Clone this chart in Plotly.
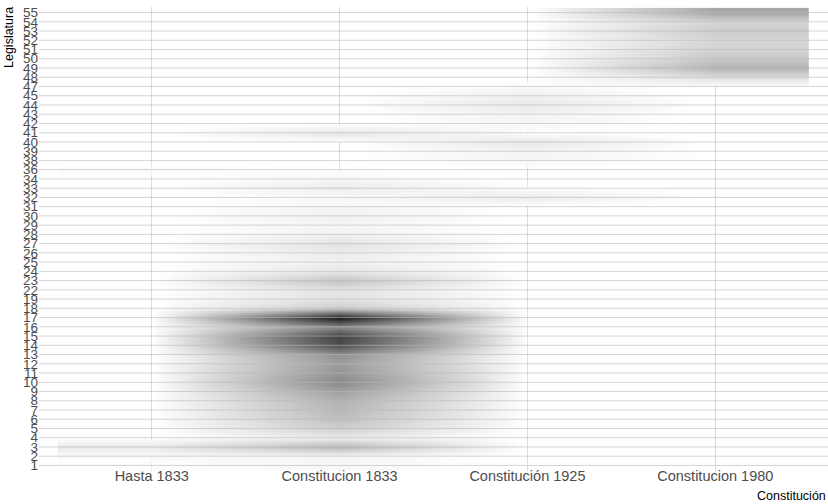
import plotly.graph_objects as go

# Columns of the heat map
constituciones = ["Hasta 1833", "Constitucion 1833", "Constitución 1925", "Constitucion 1980"]

# Rows of the heat map (legislaturas present in the data)
legislaturas = [1, 2, 3, 4, 5, 6, 7, 8, 9, 10, 11, 12, 13, 14, 15, 16, 17, 18, 19,
                22, 23, 24, 25, 26, 27, 28, 29, 30, 31, 32, 33, 34,
                36, 38, 39, 40, 41, 42, 43, 44, 45, 47,
                48, 49, 50, 51, 52, 53, 54, 55]

# Intensity per legislatura for each constitution (same order as legislaturas)
hasta_1833 = [1, 2, 9, 0, 0, 0, 0, 0, 0, 0, 0, 0, 0, 0, 0, 0, 0, 0, 0,
              0, 0, 0, 0, 0, 0, 0, 0, 0, 0, 0, 0, 0,
              2, 0, 0, 0, 0, 0, 0, 0, 0, 0,
              0, 0, 0, 0, 0, 0, 0, 0]

constitucion_1833 = [3, 4, 30, 8, 20, 27, 30, 33, 40, 50, 45, 42, 46,
                     76, 80, 50, 97, 22, 12,
                     12, 25, 10, 6, 8, 12, 5, 4, 6, 4, 2, 8, 3,
                     1, 0, 0, 0, 10, 0, 0, 0, 0, 0,
                     0, 0, 0, 0, 0, 0, 0, 0]

constitucion_1925 = [0, 0, 0, 0, 0, 0, 0, 0, 0, 0, 0, 0, 0, 0, 0, 0, 0, 0, 0,
                     0, 0, 0, 0, 0, 0, 0, 0, 0, 0, 8, 1, 0,
                     0, 3, 5, 10, 1, 3, 5, 9, 6, 2,
                     0, 0, 0, 0, 0, 0, 0, 0]

constitucion_1980 = [0, 0, 0, 0, 0, 0, 0, 0, 0, 0, 0, 0, 0, 0, 0, 0, 0, 0, 0,
                     0, 0, 0, 0, 0, 0, 0, 0, 0, 0, 0, 0, 0,
                     0, 0, 0, 0, 0, 0, 0, 0, 0, 0,
                     14, 32, 23, 19, 17, 22, 17, 37]

y_labels = [str(v) for v in legislaturas]
z = [list(row) for row in zip(hasta_1833, constitucion_1833, constitucion_1925, constitucion_1980)]

# Grey ramp from transparent (zero) to near black
colorscale = [
    [0.0, "rgba(255,255,255,0)"],
    [0.02, "rgba(250,250,250,1)"],
    [1.0, "rgba(20,20,20,1)"],
]

fig = go.Figure()
fig.add_trace(go.Heatmap(
    x=constituciones,
    y=y_labels,
    z=z,
    zmin=0,
    zmax=100,
    zsmooth="best",
    colorscale=colorscale,
    showscale=False,
    hoverinfo="skip",
))

# Horizontal rules drawn over the shading
shapes = []
for i, _ in enumerate(y_labels):
    shapes.append(dict(
        type="line", xref="paper", x0=0, x1=1, yref="y", y0=i, y1=i,
        line=dict(color="rgba(185,185,185,0.6)", width=1), layer="above",
    ))

font_family = "Liberation Sans, Arial, sans-serif"

fig.update_layout(
    width=828,
    height=504,
    margin=dict(l=39.4, r=0.4, t=6.75, b=33.15, pad=0),
    paper_bgcolor="white",
    plot_bgcolor="white",
    font=dict(family=font_family, color="#4d4d4d"),
    showlegend=False,
    shapes=shapes,
    xaxis=dict(
        type="category", categoryorder="array", categoryarray=constituciones,
        range=[-0.6, 3.6], showgrid=True, gridcolor="#dcdcdc", gridwidth=1,
        zeroline=False, showline=False, ticks="", ticklabelstandoff=-6,
        tickfont=dict(family=font_family, size=14.5, color="#4d4d4d"),
    ),
    yaxis=dict(
        type="category", categoryorder="array", categoryarray=y_labels,
        tickmode="array", tickvals=y_labels, ticktext=y_labels,
        range=[-0.6, len(y_labels) - 0.4], showgrid=False,
        zeroline=False, showline=False, ticks="",
        tickfont=dict(family=font_family, size=13.5, color="#4d4d4d"),
    ),
    annotations=[
        dict(text="Constitución", xref="paper", yref="paper", x=1, y=0,
             xanchor="right", yanchor="middle", yshift=-25, showarrow=False,
             font=dict(family=font_family, size=12.5, color="#000000")),
        dict(text="Legislatura", xref="paper", yref="paper", x=0, y=1,
             xanchor="center", yanchor="top", xshift=-30.5, yshift=2, textangle=-90,
             showarrow=False, font=dict(family=font_family, size=12.5, color="#000000")),
    ],
)

fig.write_html("out.html")
